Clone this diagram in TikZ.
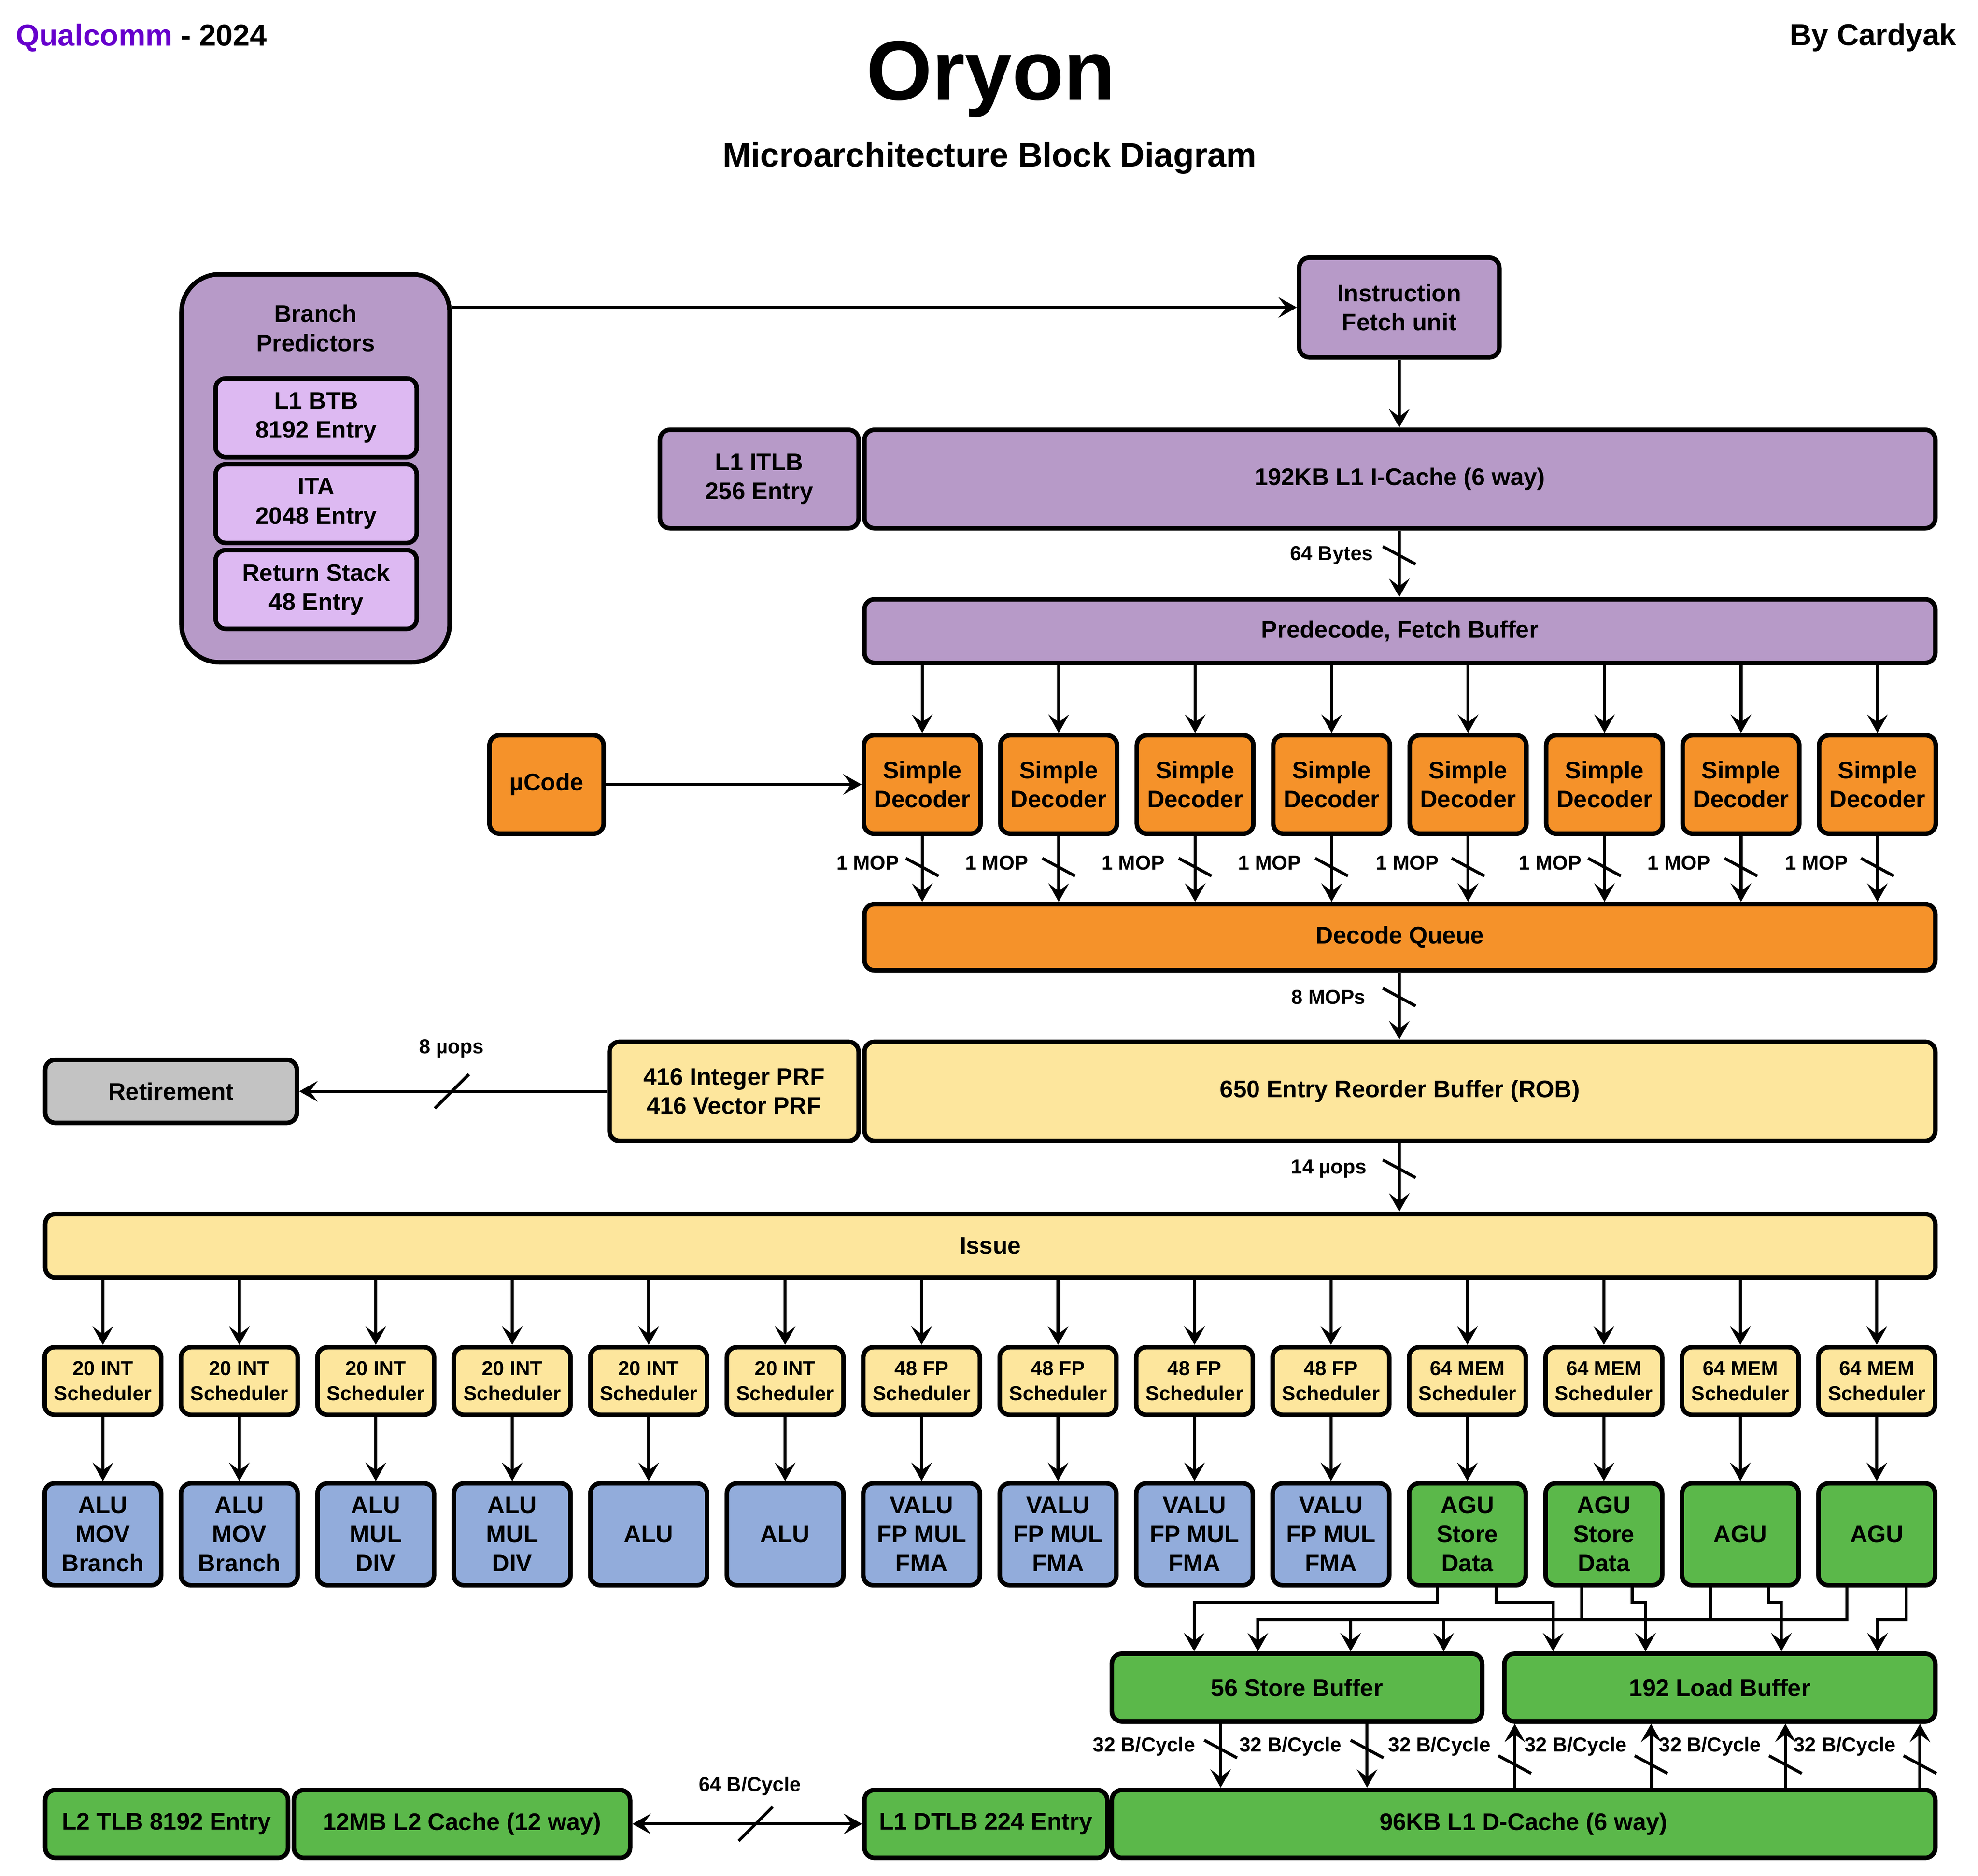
\documentclass[tikz,border=0pt]{standalone}
\usepackage{fontspec}
\setmainfont{Liberation Sans}
\usetikzlibrary{arrows.meta,calc}

\definecolor{cpurple}{HTML}{B79AC8}
\definecolor{clilac}{HTML}{DDB9F2}
\definecolor{corange}{HTML}{F5922A}
\definecolor{cyellow}{HTML}{FDE69D}
\definecolor{cblue}{HTML}{92ACDB}
\definecolor{cgreen}{HTML}{5BB84A}
\definecolor{cgray}{HTML}{C3C3C3}
\definecolor{cqc}{HTML}{6600CC}

\begin{document}
\begin{tikzpicture}[x=1pt, y=-1pt,
  >={Stealth[length=14.6pt, width=16.3pt, inset=6pt]},
  blk/.style={draw, line width=3.6pt, rounded corners=8pt, align=center,
              inner sep=0pt, font=\bfseries\fontsize{19}{23}\selectfont},
  sched/.style={blk, fill=cyellow, minimum width=92.4pt, minimum height=53.6pt,
                font=\bfseries\fontsize{16}{20}\selectfont},
  exunit/.style={blk, minimum width=92.4pt, minimum height=80.8pt},
  wire/.style={line width=2.4pt},
  lbl/.style={font=\bfseries\fontsize{16}{20}\selectfont, inner sep=0pt}]
  \fill[white] (0,0) rectangle (1567,1486);
  \useasboundingbox (0,0) rectangle (1567,1486);

  % Titles
  \node[anchor=base west, font=\bfseries\fontsize{24}{28}\selectfont] (maker) at (9,36.4)
    {\textcolor{cqc}{Qualcomm} - 2024};
  \node[anchor=base east, font=\bfseries\fontsize{24}{28}\selectfont] (author) at (1553.5,35.8) {By Cardyak};
  \node[anchor=base, font=\bfseries\fontsize{67}{72}\selectfont] (title) at (785,79.3) {Oryon};
  \node[anchor=base, font=\bfseries\fontsize{27}{32}\selectfont] (subtitle) at (784,132.3)
    {Microarchitecture Block Diagram};

  % Front end
  \node[blk, fill=cpurple, rounded corners=30pt, minimum width=212.4pt, minimum height=307.4pt] (bp) at (250,371) {};
  \node[blk, draw=none] (bptext) at (250,260) {Branch\\Predictors};
  \node[blk, fill=clilac, minimum width=159.4pt, minimum height=62.4pt] (btb) at (250.5,331) {L1 BTB\\8192 Entry};
  \node[blk, fill=clilac, minimum width=159.4pt, minimum height=62.4pt] (ita) at (250.5,399) {ITA\\2048 Entry};
  \node[blk, fill=clilac, minimum width=159.4pt, minimum height=62.4pt] (ras) at (250.5,467) {Return Stack\\48 Entry};
  \node[blk, fill=cpurple, minimum width=158.6pt, minimum height=79pt] (ifu) at (1108.5,243.6) {Instruction\\Fetch unit};
  \node[blk, fill=cpurple, minimum width=157.4pt, minimum height=78pt] (itlb) at (601.5,379.5) {L1 ITLB\\256 Entry};
  \node[blk, fill=cpurple, minimum width=848.4pt, minimum height=78pt] (icache) at (1109,379.5) {192KB L1 I-Cache (6 way)};
  \node[blk, fill=cpurple, minimum width=848.4pt, minimum height=50.4pt] (pdec) at (1109,500) {Predecode, Fetch Buffer};

  % Decoders
  \node[blk, fill=corange, minimum width=90.4pt, minimum height=78pt] (ucode) at (433,621.5) {µCode};
  \foreach \i in {1,...,8}
    \node[blk, fill=corange, minimum width=92.4pt, minimum height=78pt] (dec\i)
      at ({730.6+108.1*(\i-1)},621.5) {Simple\\Decoder};
  \node[blk, fill=corange, minimum width=848.4pt, minimum height=52.4pt] (dq) at (1109,742.5) {Decode Queue};

  % Rename / retire
  \node[blk, fill=cyellow, minimum width=197.4pt, minimum height=78.5pt] (prf) at (581.5,864.6) {416 Integer PRF\\416 Vector PRF};
  \node[blk, fill=cyellow, minimum width=848.4pt, minimum height=78.5pt] (rob) at (1109,864.6) {650 Entry Reorder Buffer (ROB)};
  \node[blk, fill=cgray, minimum width=199.4pt, minimum height=50pt] (ret) at (135.5,864.6) {Retirement};
  \node[blk, fill=cyellow, minimum width=1497.4pt, minimum height=50.4pt] (issue) at (784.5,987) {Issue};

  % Schedulers and execution units
  \foreach \t [count=\i] in {20 INT,20 INT,20 INT,20 INT,20 INT,20 INT,48 FP,48 FP,48 FP,48 FP,
                             64 MEM,64 MEM,64 MEM,64 MEM}
    \node[sched] (sch\i) at ({81.5+108.1*(\i-1)},1094.1) {\t\\Scheduler};
  \foreach \t/\c [count=\i] in {ALU\\MOV\\Branch/cblue, ALU\\MOV\\Branch/cblue, ALU\\MUL\\DIV/cblue,
                                ALU\\MUL\\DIV/cblue, ALU/cblue, ALU/cblue,
                                VALU\\FP MUL\\FMA/cblue, VALU\\FP MUL\\FMA/cblue,
                                VALU\\FP MUL\\FMA/cblue, VALU\\FP MUL\\FMA/cblue,
                                AGU\\Store\\Data/cgreen, AGU\\Store\\Data/cgreen, AGU/cgreen, AGU/cgreen}
    \node[exunit, fill=\c] (eu\i) at ({81.5+108.1*(\i-1)},1215.6) {\t};

  % Memory
  \node[blk, fill=cgreen, minimum width=293.4pt, minimum height=53.7pt] (sb) at (1027.5,1337) {56 Store Buffer};
  \node[blk, fill=cgreen, minimum width=341.4pt, minimum height=53.7pt] (lb) at (1362.5,1337) {192 Load Buffer};
  \node[blk, fill=cgreen, minimum width=192.4pt, minimum height=53.7pt] (l2tlb) at (132,1445) {L2 TLB 8192 Entry};
  \node[blk, fill=cgreen, minimum width=266.4pt, minimum height=53.7pt] (l2) at (366,1445) {12MB L2 Cache (12 way)};
  \node[blk, fill=cgreen, minimum width=192.4pt, minimum height=53.7pt] (dtlb) at (781,1445) {L1 DTLB 224 Entry};
  \node[blk, fill=cgreen, minimum width=652.4pt, minimum height=53.7pt] (dc) at (1207,1445) {96KB L1 D-Cache (6 way)};

  % Front end connections
  \draw[wire,->] (bp.east |- ifu.west) -- (ifu.west);
  \draw[wire,->] (ifu.south) -- (ifu.south |- icache.north);
  \draw[wire,->] (icache.south -| ifu.south) -- (pdec.north -| ifu.south);
  \draw[wire] (1108.5,440) ++(-13,-7) -- ++(26,14);
  \node[lbl, anchor=east] (lb64) at (1088,440) {64 Bytes};
  \draw[wire,->] (ucode.east) -- (dec1.west);
  \foreach \i/\g in {1/18,2/24,3/24,4/24,5/23,6/18,7/24,8/23} {
    \pgfmathsetmacro\xc{730.6+108.1*(\i-1)}
    \draw[wire,->] (pdec.south -| dec\i.north) -- (dec\i.north);
    \draw[wire,->] (dec\i.south) -- (dec\i.south |- dq.north);
    \draw[wire] (\xc,687) ++(-13,-7) -- ++(26,14);
    \node[lbl, anchor=east] at (\xc-\g,683.5) {1 MOP};
  }
  \draw[wire,->] (dq.south -| ifu.south) -- (rob.north -| ifu.south);
  \draw[wire] (1108.5,790) ++(-13,-7) -- ++(26,14);
  \node[lbl, anchor=east] (lbmop) at (1082,790) {8 MOPs};

  % Retire and issue
  \draw[wire,->] (prf.west) -- (ret.east);
  \draw[wire] (358,864.6) ++(-13.5,13.5) -- ++(27,-27);
  \node[lbl] (lbret) at (357.7,830.8) {8 µops};
  \draw[wire,->] (rob.south -| ifu.south) -- (issue.north -| ifu.south);
  \draw[wire] (1108.5,926) ++(-13,-7) -- ++(26,14);
  \node[lbl, anchor=east] (lbiss) at (1083,926) {14 µops};
  \foreach \i in {1,...,14} {
    \draw[wire,->] (issue.south -| sch\i.north) -- (sch\i.north);
    \draw[wire,->] (sch\i.south) -- (eu\i.north);
  }

  % AGU taps to the buffers
  \foreach \n/\l/\r in {11/-24/22.6, 12/-17.6/22.5, 13/-23.7/22.4, 14/-23.8/23.2} {
    \coordinate (tl\n) at ($(eu\n.south)+(\l,0)$);
    \coordinate (tr\n) at ($(eu\n.south)+(\r,0)$);
  }
  \coordinate (busB) at (0,1283);
  \draw[wire,->] (tl11) |- (946,1269.5) -- (946,0 |- sb.north);
  \draw[wire,->] (tr11) |- (1230.4,1269.5) -- (1230.4,0 |- lb.north);
  \draw[wire,->] (tl14) |- (996.5,1283) -- (996.5,0 |- sb.north);
  \foreach \x in {1070,1143.7}
    \draw[wire,->] (\x,1283) -- (\x,0 |- sb.north);
  \draw[wire] (tl12) -- (tl12 |- busB);
  \draw[wire] (tl13) -- (tl13 |- busB);
  \draw[wire,->] (tr12) |- (1303.6,1269.5) -- (1303.6,0 |- lb.north);
  \draw[wire,->] (tr13) |- (1411.2,1269.5) -- (1411.2,0 |- lb.north);
  \draw[wire,->] (tr14) |- (1487.4,1283) -- (1487.4,0 |- lb.north);

  % Buffers and D-cache
  \foreach \x in {967,1083} {
    \draw[wire,->] (\x,0 |- sb.south) -- (\x,0 |- dc.north);
    \draw[wire] (\x,1385.7) ++(-13,-7) -- ++(26,14);
    \node[lbl, anchor=east] at (\x-20,1383.7) {32 B/Cycle};
  }
  \foreach \x in {1200,1308,1414.4,1521} {
    \draw[wire,->] (\x,0 |- dc.north) -- (\x,0 |- lb.south);
    \draw[wire] (\x,1398) ++(-13,-7) -- ++(26,14);
    \node[lbl, anchor=east] at (\x-19,1383.7) {32 B/Cycle};
  }
  \draw[wire,<->] (l2.east) -- (dtlb.west);
  \draw[wire] (598.6,1445) ++(-13.5,13.5) -- ++(27,-27);
  \node[lbl] (lbl2) at (594,1415) {64 B/Cycle};
\end{tikzpicture}
\end{document}
